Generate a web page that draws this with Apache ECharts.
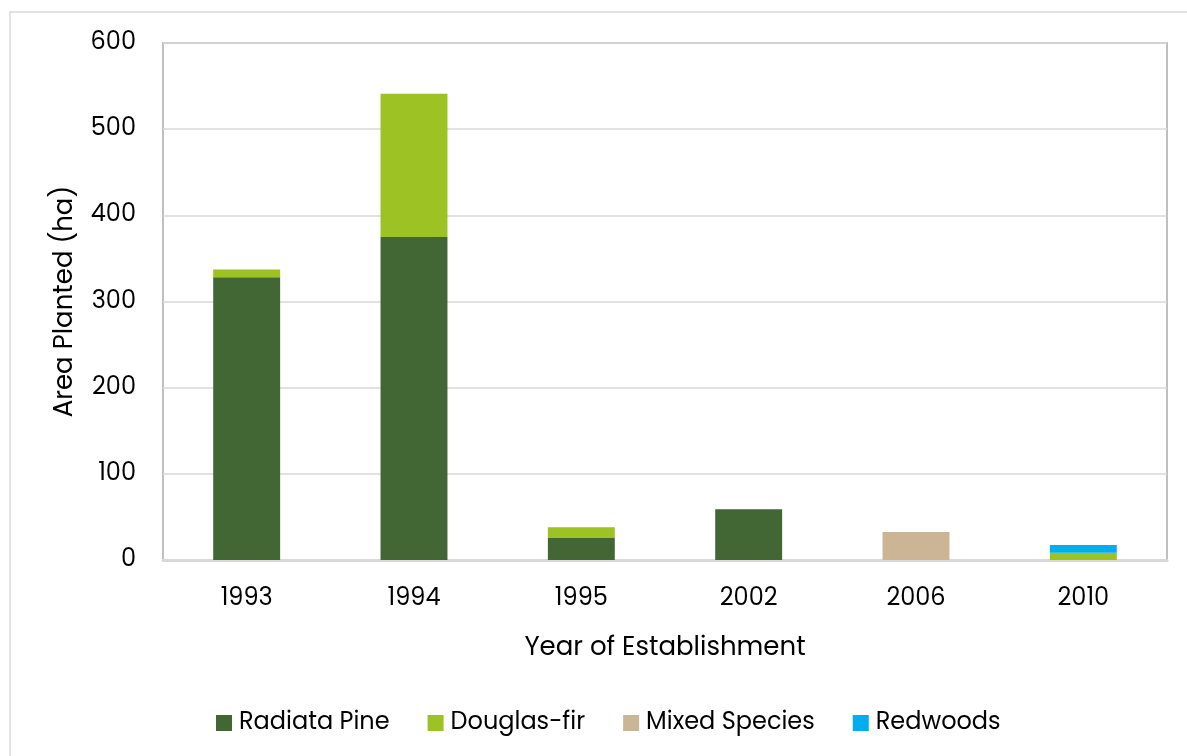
<!DOCTYPE html>
<html><head><meta charset="utf-8">
<script src="https://cdn.jsdelivr.net/npm/echarts@6/dist/echarts.min.js"></script>
<style>html,body{margin:0;padding:0;background:#fff}#c{width:1187px;height:756px}</style>
</head><body><div id="c"></div>
<script>
const years = ['1993','1994','1995','2002','2006','2010'];
const radiataPine = [328, 375, 26, 59, 0, 0];
const douglasFir = [9, 166, 12, 0, 0, 8.5];
const mixedSpecies = [0, 0, 0, 0, 32.5, 0];
const redwoods = [0, 0, 0, 0, 0, 9];
const yTicks = [0, 100, 200, 300, 400, 500, 600];

const font = 'Poppins, "Noto Sans", sans-serif';
const chart = echarts.init(document.getElementById('c'));
const mk = (name, data, color) => ({
  name, type: 'bar', stack: 'a', data: data.map(v => v === 0 ? null : v),
  barWidth: '40%', itemStyle: { color }, emphasis: { disabled: true }
});
chart.setOption({
  animation: false,
  textStyle: { fontFamily: font },
  graphic: [{ type: 'rect', silent: true, shape: { x: 10, y: 12, width: 1300, height: 900 },
    style: { fill: 'none', stroke: '#d9d9d9', lineWidth: 1.5 } }],
  grid: { left: 163, top: 43, right: 20, bottom: 196, show: true, borderColor: '#bfbfbf', borderWidth: 2 },
  legend: {
    top: 706, left: 211, itemWidth: 16, itemHeight: 16, itemGap: 38, icon: 'rect',
    textStyle: { fontSize: 24, color: '#000', fontFamily: font, padding: [0, 0, 0, 2] },
    data: ['Radiata Pine', 'Douglas-fir', 'Mixed Species', 'Redwoods']
  },
  xAxis: {
    type: 'category', data: years,
    name: 'Year of Establishment', nameLocation: 'middle', nameGap: 75,
    nameTextStyle: { fontSize: 26, color: '#000', fontFamily: font },
    axisLabel: { fontSize: 24, color: '#000', margin: 27, fontFamily: font },
    axisTick: { show: false },
    axisLine: { lineStyle: { color: '#d9d9d9', width: 3 } }
  },
  yAxis: {
    type: 'value', min: yTicks[0], max: yTicks[yTicks.length - 1], interval: 100,
    name: 'Area Planted (ha)', nameLocation: 'middle', nameGap: 85,
    nameTextStyle: { fontSize: 26, color: '#000', fontFamily: font },
    axisLabel: { fontSize: 24, color: '#000', margin: 27, fontFamily: font },
    splitLine: { lineStyle: { color: '#d9d9d9', width: 1.5 } },
    axisLine: { show: false }, axisTick: { show: false }
  },
  series: [
    mk('Radiata Pine', radiataPine, '#426734'),
    mk('Douglas-fir', douglasFir, '#9CC223'),
    mk('Mixed Species', mixedSpecies, '#CBB594'),
    mk('Redwoods', redwoods, '#00AEEF')
  ]
});
</script></body></html>
